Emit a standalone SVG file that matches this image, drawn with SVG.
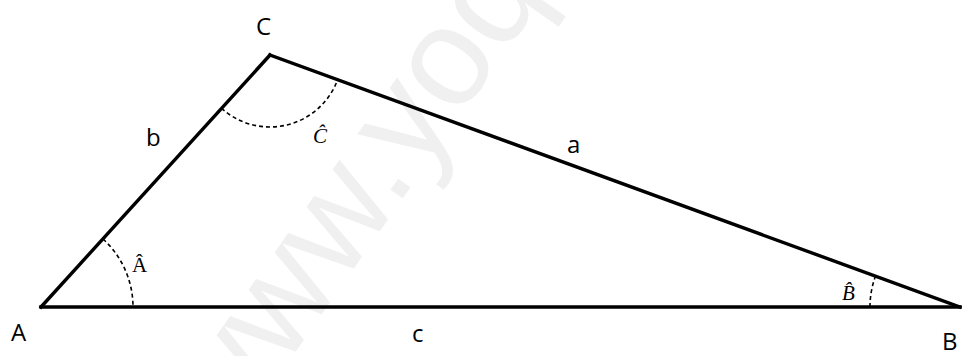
<svg xmlns="http://www.w3.org/2000/svg" width="962" height="356" viewBox="0 0 962 356">
<style>
.side{stroke:#000;stroke-width:3.4;fill:none;stroke-linecap:square;stroke-linejoin:miter}
.arc{stroke:#000;stroke-width:1.6;fill:none;stroke-dasharray:4 3}
.lbl{font-family:"Open Sans","Liberation Sans",sans-serif;font-size:24px;fill:#000}
.ang{font-family:"Liberation Serif","DejaVu Serif",serif;font-size:21px;fill:#000}
.wm{font-family:"Liberation Sans",Arial,sans-serif;font-size:140px;fill:#f0f0f0}
</style>
<rect width="962" height="356" fill="#fff"/>
<text class="wm" x="226" y="451" transform="rotate(-55 226 451)">www.yoq</text>
<g id="connectors">
<path id="side-b" class="side" d="M41 307 L270 55"/>
<path id="side-a" class="side" d="M270 55 L960 307"/>
<path id="side-c" class="side" d="M41 307 L960 307"/>
</g>
<g id="angle-A">
<path class="arc" d="M103 239 A92 92 0 0 1 133 307"/>
<text class="ang" x="132" y="272">Â</text>
</g>
<g id="angle-C">
<path class="arc" d="M221.6 108.3 A72 72 0 0 0 337.6 79.7"/>
<text class="ang" x="313" y="143" font-style="italic">Ĉ</text>
</g>
<g id="angle-B">
<path class="arc" d="M870 307 A90 90 0 0 1 875.5 276"/>
<text class="ang" x="842" y="300" font-style="italic">B̂</text>
</g>
<g id="node-A"><text class="lbl" x="11" y="341">A</text></g>
<g id="node-B"><text class="lbl" x="942" y="350">B</text></g>
<g id="node-C"><text class="lbl" x="256" y="35">C</text></g>
<g id="label-a"><text class="lbl" x="567" y="153">a</text></g>
<g id="label-b"><text class="lbl" x="146" y="146">b</text></g>
<g id="label-c"><text class="lbl" x="412" y="342">c</text></g>
</svg>
